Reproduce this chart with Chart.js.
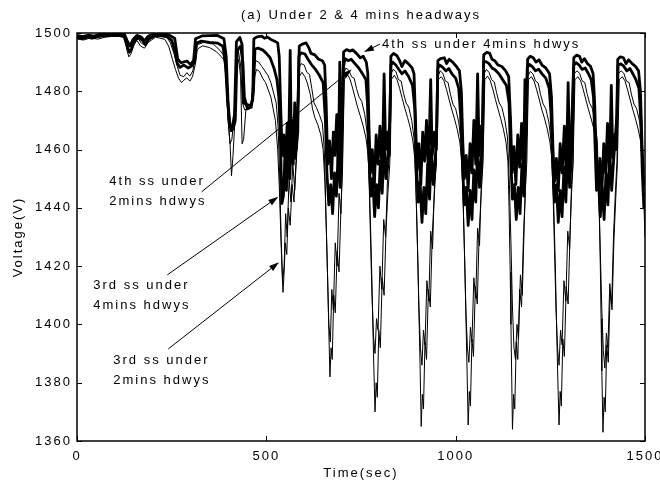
<!DOCTYPE html>
<html>
<head>
<meta charset="utf-8">
<script src="https://cdn.jsdelivr.net/npm/chart.js@4.4.1/dist/chart.umd.min.js"></script>
<style>
html,body{margin:0;padding:0;background:#fff;}
canvas{display:block;}
</style>
</head>
<body>
<canvas id="c" width="660" height="487"></canvas>
<script>
// ---------------- DATA ----------------
const timeTicks = [0, 500, 1000, 1500];
const voltTicks = [1360, 1380, 1400, 1420, 1440, 1460, 1480, 1500];

// [time (s), voltage (V)]
const ss4_4min = [
[0,1499.2],[15,1498.8],[30,1499.3],[45,1498.9],[60,1499.5],[90,1499.7],[125,1499.6],[132,1497.5],[140,1495.5],[148,1497.8],[158,1499.2],[170,1498.6],[178,1497.2],[188,1498.9],[200,1499.6],[240,1499.5],[258,1498.2],[266,1491],[275,1489.8],[290,1490.4],[300,1489.2],[308,1490.6],[313,1498],[330,1499],[370,1499.2],[388,1498],[394,1492],[399,1476],[404,1468],[410,1467.5],[416,1472],[421,1497],[430,1498.5],[436,1496],[440,1476],[448,1475.5],[458,1475],[464,1477],
[467,1498],[475,1498.7],[488,1498.9],[495,1498.2],[503,1498.6],[512,1497.8],[522,1497.2],[530,1496.6],[534,1492],[538,1474],[542,1458],[546,1465],[550,1452],[555,1469],[559,1460],[563,1494],[566,1462],[571,1470],[576,1457],[580,1468],[584,1478],
[587,1495.5],[595,1496.2],[605,1496.6],[612,1495],[618,1493],[628,1492.5],[638,1491],[648,1490.5],[654,1489],[658,1476],[662,1455],[667,1463],[672,1450],[677,1466],[681,1458],[686,1472],[690,1454],[694,1490],[697,1462],[701,1470],
[704,1493.5],[712,1494.3],[720,1493.8],[728,1494.2],[738,1493],[748,1491.5],[756,1492],[764,1490],[768,1486],[771,1468],[775,1452],[780,1460],[785,1447],[790,1465],[795,1455],[800,1468],[806,1452],[811,1486],[815,1460],[820,1466],[825,1458],
[829,1492],[836,1493],[845,1492.2],[852,1490.5],[858,1488.5],[866,1490.5],[875,1489.5],[885,1488],[890,1486],[894,1470],[898,1453],[903,1462],[908,1448],[913,1466],[918,1456],[923,1470],[928,1452],[934,1484],[938,1458],[944,1466],[949,1460],
[953,1490.5],[960,1491.2],[970,1491.5],[976,1489.5],[983,1491],[992,1490],[1002,1488.5],[1010,1487],[1015,1480],[1019,1462],[1023,1450],[1028,1458],[1033,1446],[1038,1462],[1043,1452],[1048,1470],[1053,1455],[1058,1486],[1062,1458],[1067,1468],[1071,1462],
[1074,1492.5],[1082,1493.4],[1090,1493],[1096,1491],[1103,1490.5],[1112,1489],[1122,1488.5],[1132,1487],[1140,1485],[1145,1470],[1149,1452],[1154,1461],[1159,1448],[1164,1465],[1169,1454],[1174,1469],[1179,1452],[1183,1484],[1186,1465],
[1190,1491],[1197,1492],[1205,1491.5],[1212,1490],[1220,1490.8],[1228,1489],[1238,1488],[1248,1486],[1253,1478],[1257,1460],[1261,1449],[1266,1457],[1271,1446],[1276,1462],[1281,1452],[1287,1468],[1292,1450],[1297,1483],[1301,1456],[1306,1466],
[1312,1491.5],[1319,1492.4],[1327,1492],[1333,1490],[1340,1491.2],[1348,1489.5],[1356,1488.6],[1363,1486],[1367,1476],[1371,1458],[1376,1448],[1381,1457],[1386,1445],[1391,1462],[1396,1452],[1401,1469],[1406,1451],[1411,1482],[1415,1457],[1420,1465],[1424,1460],
[1428,1491],[1435,1491.8],[1443,1491.5],[1450,1489.5],[1457,1490.8],[1466,1489.5],[1475,1488.5],[1483,1487],[1488,1480],[1492,1462],[1496,1450],[1500,1448]
];

const ss3_4min = [
[0,1498.4],[12,1498],[25,1498.6],[40,1498.2],[55,1498.8],[70,1499],[100,1499.2],[124,1499],[131,1496],[138,1493.5],[144,1494.5],[150,1497],[160,1498.6],[172,1497.6],[181,1496],[190,1498],[205,1499.2],[235,1499],[250,1497.5],[258,1494],[265,1489.5],[272,1488.2],[282,1489],[294,1488],[304,1488.8],[311,1490],[315,1496.5],[328,1497.2],[350,1496.8],[372,1496.5],[385,1495.5],[392,1490],[397,1478],[402,1470],[407,1466.5],[412,1467],[418,1470],[423,1494],[432,1495.5],[438,1490],[442,1478],[450,1474],[460,1474.5],[466,1480],[470,1494.5],
[478,1494.8],[490,1494.2],[500,1493],[510,1491.5],[520,1488],[528,1484],[533,1478],[537,1465],[541,1441.5],[545,1444],[549,1456],[553,1446],[558,1462],[562,1450],[567,1468],[571,1455],[575,1476],[579,1460],[583,1466],[586,1492],
[592,1493.2],[602,1492.8],[610,1491],[620,1489],[630,1487.5],[640,1485.5],[650,1483],[656,1470],[660,1452],[665,1441],[670,1448],[675,1438],[680,1452],[685,1444],[690,1460],[695,1447],[699,1465],[703,1488],
[708,1491.2],[716,1490.5],[724,1491],[734,1489.5],[744,1488],[754,1486],[763,1484],[767,1476],[771,1458],[776,1444],[781,1450],[786,1437],[791,1448],[796,1440],[801,1456],[806,1445],[811,1462],[816,1450],[821,1458],[826,1470],[829,1489],
[834,1490],[842,1489],[850,1487.5],[858,1486],[866,1487],[876,1485],[886,1482],[892,1474],[896,1456],[901,1442],[906,1449],[911,1435],[916,1447],[921,1438],[926,1455],[931,1443],[936,1460],[941,1448],[946,1456],[950,1468],[953,1488],
[958,1489],[966,1488.2],[974,1487],[982,1487.8],[990,1486],[1000,1484.5],[1008,1481],[1013,1472],[1018,1455],[1023,1441],[1028,1447],[1033,1434],[1038,1446],[1043,1436],[1048,1453],[1053,1442],[1058,1461],[1063,1447],[1068,1457],[1071,1470],[1074,1490],
[1080,1490.2],[1088,1489.5],[1096,1488],[1104,1487.4],[1114,1486],[1124,1484],[1134,1482],[1141,1476],[1145,1458],[1150,1443],[1155,1448],[1160,1436],[1165,1447],[1170,1438],[1175,1455],[1180,1444],[1185,1466],[1189,1488],
[1195,1489.2],[1203,1488.4],[1211,1487],[1219,1487.6],[1228,1486],[1238,1484.5],[1247,1481],[1252,1472],[1256,1456],[1261,1442],[1266,1448],[1271,1435],[1276,1446],[1281,1437],[1286,1454],[1291,1442],[1296,1460],[1301,1447],[1306,1458],[1309,1470],[1312,1489],
[1318,1489.8],[1326,1489],[1334,1487.5],[1342,1488],[1350,1486.2],[1358,1484],[1364,1478],[1368,1462],[1372,1446],[1377,1450],[1382,1437],[1387,1447],[1392,1436],[1397,1452],[1402,1441],[1407,1459],[1412,1446],[1417,1456],[1422,1465],[1426,1472],[1429,1489],
[1436,1489.4],[1444,1488.6],[1452,1487],[1460,1487.8],[1468,1486],[1476,1484],[1484,1481],[1489,1470],[1493,1452],[1497,1440],[1500,1442]
];

const ss4_2min = [
[0,1498.6],[20,1498.2],[40,1498.9],[65,1499.2],[100,1499.4],[127,1499],[133,1496],[139,1493],[146,1495.5],[152,1497],[162,1498],[170,1496.5],[180,1495.8],[190,1497.6],[210,1499],[238,1498.4],[246,1496.8],[256,1493],[264,1489],[272,1485.5],[282,1485],[290,1486.4],[298,1485.2],[306,1487],[312,1492],[318,1496],[335,1496.8],[360,1496.2],[378,1494],[386,1492.5],[392,1488],[398,1472],[404,1462],[409,1463.5],[414,1470],[420,1486],[426,1494],[432,1489],[437,1476],[443,1473.6],[452,1474.2],[460,1475],[466,1487],
[472,1490.5],[480,1490],[488,1488.5],[496,1487],[504,1485.5],[512,1483],[520,1479],[526,1476],[531,1468],[535,1452],[539,1430],[543,1415],[547,1420],[551,1438],[555,1430],[560,1450],[565,1442],[570,1455],[575,1446],[580,1458],[586,1488],
[592,1489.5],[600,1489],[607,1486.5],[614,1485.8],[620,1481],[626,1476],[632,1474.5],[640,1472],[648,1469],[653,1460],[657,1440],[661,1420],[665,1400],[669,1394],[673,1412],[677,1405],[682,1428],[687,1420],[692,1445],[697,1438],[701,1456],[704,1486],
[710,1488],[718,1487.2],[725,1485],[732,1484.5],[738,1481],[745,1478],[752,1476.5],[760,1472],[766,1466],[771,1452],[775,1430],[779,1410],[783,1396],[787,1390],[791,1402],[795,1398],[800,1420],[805,1412],[810,1436],[815,1430],[820,1450],[825,1458],[829,1486],
[835,1487.5],[842,1486.8],[849,1484],[856,1483.5],[862,1479.5],[869,1476],[876,1474.6],[884,1470],[890,1464],[895,1448],[899,1428],[903,1406],[907,1392],[911,1386],[915,1398],[919,1393],[924,1415],[929,1408],[934,1432],[939,1426],[944,1448],[949,1455],[953,1485],
[959,1487],[966,1486.2],[973,1483.5],[980,1483],[986,1479],[993,1475.5],[1000,1474],[1008,1469.5],[1014,1463],[1019,1446],[1023,1426],[1027,1405],[1031,1392],[1035,1387],[1039,1399],[1043,1394],[1048,1416],[1053,1409],[1058,1433],[1063,1427],[1068,1449],[1072,1457],[1075,1486],
[1081,1487.5],[1088,1486.5],[1095,1484],[1102,1483.2],[1108,1479.5],[1115,1476],[1122,1474.5],[1130,1470],[1137,1464],[1142,1448],[1146,1428],[1150,1406],[1154,1392],[1158,1388],[1162,1400],[1166,1395],[1171,1417],[1176,1410],[1181,1434],[1185,1450],[1190,1485],
[1197,1486.8],[1204,1486],[1211,1483.5],[1218,1482.8],[1224,1479],[1231,1475.6],[1238,1474],[1246,1469.5],[1252,1463],[1257,1446],[1261,1426],[1265,1405],[1269,1392],[1273,1386],[1277,1398],[1281,1393],[1286,1415],[1291,1408],[1296,1432],[1301,1426],[1306,1448],[1310,1456],[1313,1486],
[1320,1487],[1327,1486.2],[1334,1483.6],[1341,1483],[1347,1479.2],[1354,1475.8],[1361,1474.2],[1368,1469.5],[1374,1463],[1378,1446],[1382,1425],[1386,1405],[1390,1391],[1394,1385],[1398,1397],[1402,1392],[1407,1414],[1412,1407],[1417,1431],[1422,1446],[1426,1456],[1429,1486],
[1437,1487],[1444,1486.2],[1451,1483.5],[1458,1483],[1464,1479],[1471,1475.6],[1478,1474],[1486,1469.5],[1492,1463],[1497,1446],[1500,1436]
];

const ss3_2min = [
[0,1498],[18,1497.6],[35,1498.3],[55,1497.9],[75,1498.6],[105,1499],[126,1498.4],[132,1494],[137,1491.8],[143,1493],[149,1495.5],[158,1497.5],[168,1495.5],[178,1494.8],[188,1496.8],[208,1498.6],[232,1497.8],[242,1495.5],[252,1491],[260,1487.5],[268,1484.5],[276,1483],[282,1483.8],[290,1484.6],[298,1483.5],[305,1485],[312,1489],[318,1494.5],[332,1495.6],[350,1495],[368,1493.6],[380,1492],[388,1490.8],[394,1484],[399,1470],[404,1462.6],[408,1451],[412,1458],[417,1470],[422,1488],[427,1491],[432,1485],[436,1462],[440,1463.5],[446,1473.6],[455,1474],[462,1476],[467,1484],
[474,1487.5],[482,1486.8],[490,1484.5],[498,1483],[505,1480.5],[512,1478],[518,1474],[524,1470],[530,1460],[534,1448],[538,1432],[541,1420],[544,1411],[547,1418],[550,1428],[554,1424],[558,1440],[563,1434],[568,1448],[573,1442],[578,1455],[582,1462],[587,1485],
[594,1486.5],[602,1485],[609,1482.5],[616,1479],[622,1474],[628,1471],[636,1468.5],[644,1465],[650,1460],[655,1448],[659,1430],[662,1415],[665,1398],[668,1382],[671,1392],[674,1388],[678,1410],[682,1404],[687,1425],[692,1418],[697,1440],[701,1452],[706,1484],
[713,1486],[720,1484.5],[727,1481.5],[734,1478],[741,1474.5],[748,1471.6],[756,1468],[763,1464],[769,1458],[773,1444],[777,1425],[780,1408],[783,1390],[787,1370],[790,1380],[793,1375],[797,1398],[801,1392],[806,1416],[811,1410],[816,1432],[821,1445],[826,1455],[830,1484],
[838,1485.5],[845,1484],[852,1481],[859,1477.5],[866,1474],[873,1471],[880,1467.5],[887,1463],[892,1457],[896,1442],[900,1422],[903,1404],[906,1386],[909,1365],[912,1376],[915,1371],[919,1394],[923,1388],[928,1412],[933,1406],[938,1430],[943,1443],[948,1454],[954,1484],
[962,1485],[969,1483.6],[976,1480.5],[983,1477],[990,1473.6],[997,1470.5],[1004,1467],[1011,1462.5],[1016,1456],[1020,1441],[1024,1421],[1027,1403],[1030,1385],[1033,1365.5],[1036,1377],[1039,1372],[1043,1395],[1047,1389],[1052,1413],[1057,1407],[1062,1431],[1067,1444],[1072,1455],[1077,1484],
[1084,1485.2],[1091,1483.8],[1098,1480.8],[1105,1477.2],[1112,1473.8],[1119,1470.6],[1126,1467],[1133,1462.5],[1138,1456],[1141,1440],[1144,1418],[1146,1400],[1148,1382],[1150,1364],[1153,1376],[1156,1371],[1160,1394],[1164,1388],[1169,1412],[1174,1406],[1179,1430],[1184,1446],[1188,1456],[1192,1484],
[1200,1485],[1207,1483.5],[1214,1480.5],[1221,1477],[1228,1473.5],[1235,1470.5],[1242,1467],[1249,1462.5],[1255,1456],[1259,1441],[1263,1421],[1266,1403],[1269,1385],[1273,1365.5],[1276,1377],[1279,1372],[1283,1395],[1287,1389],[1292,1413],[1297,1407],[1302,1431],[1306,1445],[1310,1455],[1315,1484],
[1323,1485],[1330,1483.6],[1337,1480.5],[1344,1477],[1351,1473.6],[1358,1470.5],[1365,1467],[1371,1462.5],[1376,1455],[1379,1440],[1382,1420],[1384,1402],[1386,1384],[1389,1363],[1392,1375],[1395,1370],[1399,1393],[1403,1387],[1408,1411],[1413,1405],[1418,1429],[1423,1444],[1427,1455],[1432,1484],
[1440,1485],[1447,1483.6],[1454,1480.5],[1461,1477],[1468,1473.6],[1475,1470.5],[1482,1467],[1489,1462.5],[1494,1455],[1497,1442],[1500,1430]
];

// annotation texts, anchored in data units (time, voltage)
const annotations = [
  {lines:['4th ss under 4mins hdwys'], at:[805.4,1496.2], tail:[800.2,1496.2], tip:[757.9,1493.5]},
  {lines:['4th ss under','2mins hdwys'], at:[85.3,1448.97], tail:[329.3,1445.5], tip:[725.4,1487.5]},
  {lines:['3rd ss under','4mins hdwys'], at:[43.0,1413.5], tail:[238.5,1417.0], tip:[531.6,1443.8]},
  {lines:['3rd ss under','2mins hdwys'], at:[95.9,1387.5], tail:[241.1,1391.6], tip:[533.4,1421.3]}
];
const titleText = '(a) Under 2 & 4 mins headways';
const xTitle = 'Time(sec)';
const yTitle = 'Voltage(V)';

// ---------------- CHART ----------------
const FONT = '"Liberation Sans", Arial, Helvetica, sans-serif';
Chart.defaults.font.family = FONT;
Chart.defaults.font.size = 13;
Chart.defaults.color = '#000';

const toXY = a => a.map(p => ({x: p[0], y: p[1]}));
const mkSet = (label, arr, w) => ({
  label, data: toXY(arr), borderColor: '#000', backgroundColor: '#000',
  borderWidth: w, pointRadius: 0, pointHoverRadius: 0, tension: 0, fill: false,
  borderJoinStyle: 'round', borderCapStyle: 'round'
});

const spacingPlugin = {
  id: 'spacing',
  beforeDraw(chart) { chart.ctx.letterSpacing = '2px'; }
};

const framePlugin = {
  id: 'frame',
  afterDraw(chart) {
    const {ctx, chartArea: a, scales: {x, y}} = chart;
    ctx.save();
    ctx.strokeStyle = '#000';
    ctx.fillStyle = '#000';
    // box
    ctx.lineWidth = 1.5;
    ctx.strokeRect(a.left, a.top, a.right - a.left, a.bottom - a.top);
    // inward ticks on all four sides
    ctx.lineWidth = 1;
    const TL = 5;
    ctx.beginPath();
    timeTicks.forEach(v => {
      const px = Math.round(x.getPixelForValue(v)) + 0.5;
      ctx.moveTo(px, a.bottom); ctx.lineTo(px, a.bottom - TL);
      ctx.moveTo(px, a.top); ctx.lineTo(px, a.top + TL);
    });
    voltTicks.forEach(v => {
      const py = Math.round(y.getPixelForValue(v)) + 0.5;
      ctx.moveTo(a.left, py); ctx.lineTo(a.left + TL, py);
      ctx.moveTo(a.right, py); ctx.lineTo(a.right - TL, py);
    });
    ctx.stroke();

    // texts
    ctx.letterSpacing = '2px';
    ctx.font = '13px ' + FONT;
    ctx.textBaseline = 'middle';
    ctx.textAlign = 'center';
    ctx.fillText(titleText, (a.left + a.right) / 2, 15);
    ctx.fillText(xTitle, (a.left + a.right) / 2, 473);
    ctx.save();
    ctx.translate(18, (a.top + a.bottom) / 2);
    ctx.rotate(-Math.PI / 2);
    ctx.fillText(yTitle, 0, 0);
    ctx.restore();

    // annotations
    ctx.textAlign = 'left';
    annotations.forEach(an => {
      const tx = x.getPixelForValue(an.at[0]);
      const ty = y.getPixelForValue(an.at[1]);
      an.lines.forEach((s, i) => ctx.fillText(s, tx, ty + i * 20));
      const x0 = x.getPixelForValue(an.tail[0]), y0 = y.getPixelForValue(an.tail[1]);
      const x1 = x.getPixelForValue(an.tip[0]), y1 = y.getPixelForValue(an.tip[1]);
      const ang = Math.atan2(y1 - y0, x1 - x0);
      const L = 10, W = 3.2;
      const bx = x1 - L * Math.cos(ang), by = y1 - L * Math.sin(ang);
      ctx.lineWidth = 1;
      ctx.beginPath();
      ctx.moveTo(x0, y0); ctx.lineTo(bx, by);
      ctx.stroke();
      ctx.beginPath();
      ctx.moveTo(x1, y1);
      ctx.lineTo(bx + W * Math.sin(ang), by - W * Math.cos(ang));
      ctx.lineTo(bx - W * Math.sin(ang), by + W * Math.cos(ang));
      ctx.closePath();
      ctx.fill();
    });
    ctx.restore();
  }
};

new Chart(document.getElementById('c').getContext('2d'), {
  type: 'line',
  data: {
    datasets: [
      mkSet('4th ss under 4mins hdwys', ss4_4min, 2.8),
      mkSet('3rd ss under 4mins hdwys', ss3_4min, 2.8),
      mkSet('4th ss under 2mins hdwys', ss4_2min, 1),
      mkSet('3rd ss under 2mins hdwys', ss3_2min, 1)
    ]
  },
  options: {
    responsive: false,
    animation: false,
    devicePixelRatio: 1,
    events: [],
    layout: {padding: {top: 33, right: 15, left: 0, bottom: 0}},
    plugins: {legend: {display: false}, tooltip: {enabled: false}, title: {display: false}},
    scales: {
      x: {
        type: 'linear', min: 0, max: 1500,
        afterBuildTicks: s => { s.ticks = timeTicks.map(v => ({value: v})); },
        grid: {display: false, drawTicks: false},
        border: {display: false},
        ticks: {padding: 8, maxRotation: 0, autoSkip: false, color: '#000', font: {size: 13}, callback: v => String(v)},
        afterFit: s => { s.height = 46; s.paddingLeft = 0; s.paddingRight = 0; }
      },
      y: {
        type: 'linear', min: 1360, max: 1500,
        afterBuildTicks: s => { s.ticks = voltTicks.map(v => ({value: v})); },
        grid: {display: false, drawTicks: false},
        border: {display: false},
        ticks: {padding: 5, color: '#000', font: {size: 13}, callback: v => String(v)},
        afterFit: s => { s.width = 77; s.paddingTop = 0; s.paddingBottom = 0; }
      }
    }
  },
  plugins: [spacingPlugin, framePlugin]
});
</script>
</body>
</html>
